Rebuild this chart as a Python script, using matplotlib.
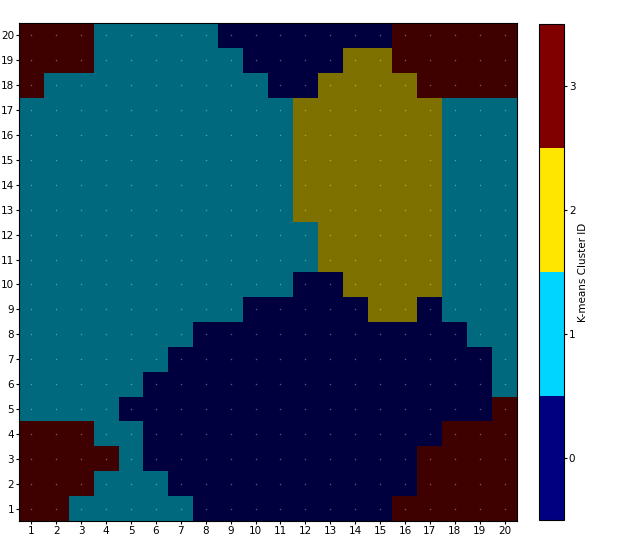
import matplotlib
matplotlib.use("Agg")
import matplotlib.pyplot as plt
import numpy as np
from matplotlib.cm import ScalarMappable
from matplotlib.colors import Normalize

# cluster ids per grid row, top row (y=20) first, columns x=1..20
cluster_rows = [
    "33311111000000033333",  # 20
    "33311111100002233333",  # 19
    "31111111110022223333",  # 18
    "11111111111222222111",  # 17
    "11111111111222222111",  # 16
    "11111111111222222111",  # 15
    "11111111111222222111",  # 14
    "11111111111222222111",  # 13
    "11111111111122222111",  # 12
    "11111111111122222111",  # 11
    "11111111111002222111",  # 10
    "11111111100000220111",  # 9
    "11111110000000000011",  # 8
    "11111100000000000001",  # 7
    "11111000000000000001",  # 6
    "11110000000000000003",  # 5
    "33311000000000000333",  # 4
    "33331000000000003333",  # 3
    "33311100000000003333",  # 2
    "33111110000000033333",  # 1
]
x_labels = list(range(1, 21))
y_labels = list(range(1, 21))
cluster_ids = [0, 1, 2, 3]

grid = np.array([[int(c) for c in row] for row in cluster_rows])[::-1]
n = len(x_labels)
cmap = plt.get_cmap("jet", len(cluster_ids))

fig = plt.figure(figsize=(6.34, 5.38), dpi=100)
ax = fig.add_axes([19 / 634, 17 / 538, 498 / 634, 498 / 538])
ax.set_facecolor("black")
extent = (0.5, n + 0.5, 0.5, n + 0.5)
ax.imshow(np.zeros_like(grid), cmap="gray", vmin=0, vmax=1, origin="lower",
          extent=extent)
ax.imshow(grid, cmap=cmap, vmin=-0.5, vmax=3.5, alpha=0.5, origin="lower",
          extent=extent, interpolation="nearest")

# faint markers at the grid nodes (underlying image)
xx, yy = np.meshgrid(x_labels, y_labels)
ax.scatter(xx.ravel(), yy.ravel(), s=1.2, c="white", alpha=0.35, linewidths=0)

ax.set_xlim(0.5, n + 0.5)
ax.set_ylim(0.5, n + 0.5)
ax.set_xticks(x_labels)
ax.set_yticks(y_labels)
ax.tick_params(labelsize=7.5, length=2, pad=1.5)

cax = fig.add_axes([539 / 634, 18 / 538, 25 / 634, 496 / 538])
sm = ScalarMappable(norm=Normalize(-0.5, 3.5), cmap=cmap)
cb = fig.colorbar(sm, cax=cax, ticks=cluster_ids)
cb.set_label("K-means Cluster ID", fontsize=7.5, labelpad=2)
cb.ax.tick_params(labelsize=7.5, length=2, pad=1.5)

fig.savefig("out.png", dpi=100)
